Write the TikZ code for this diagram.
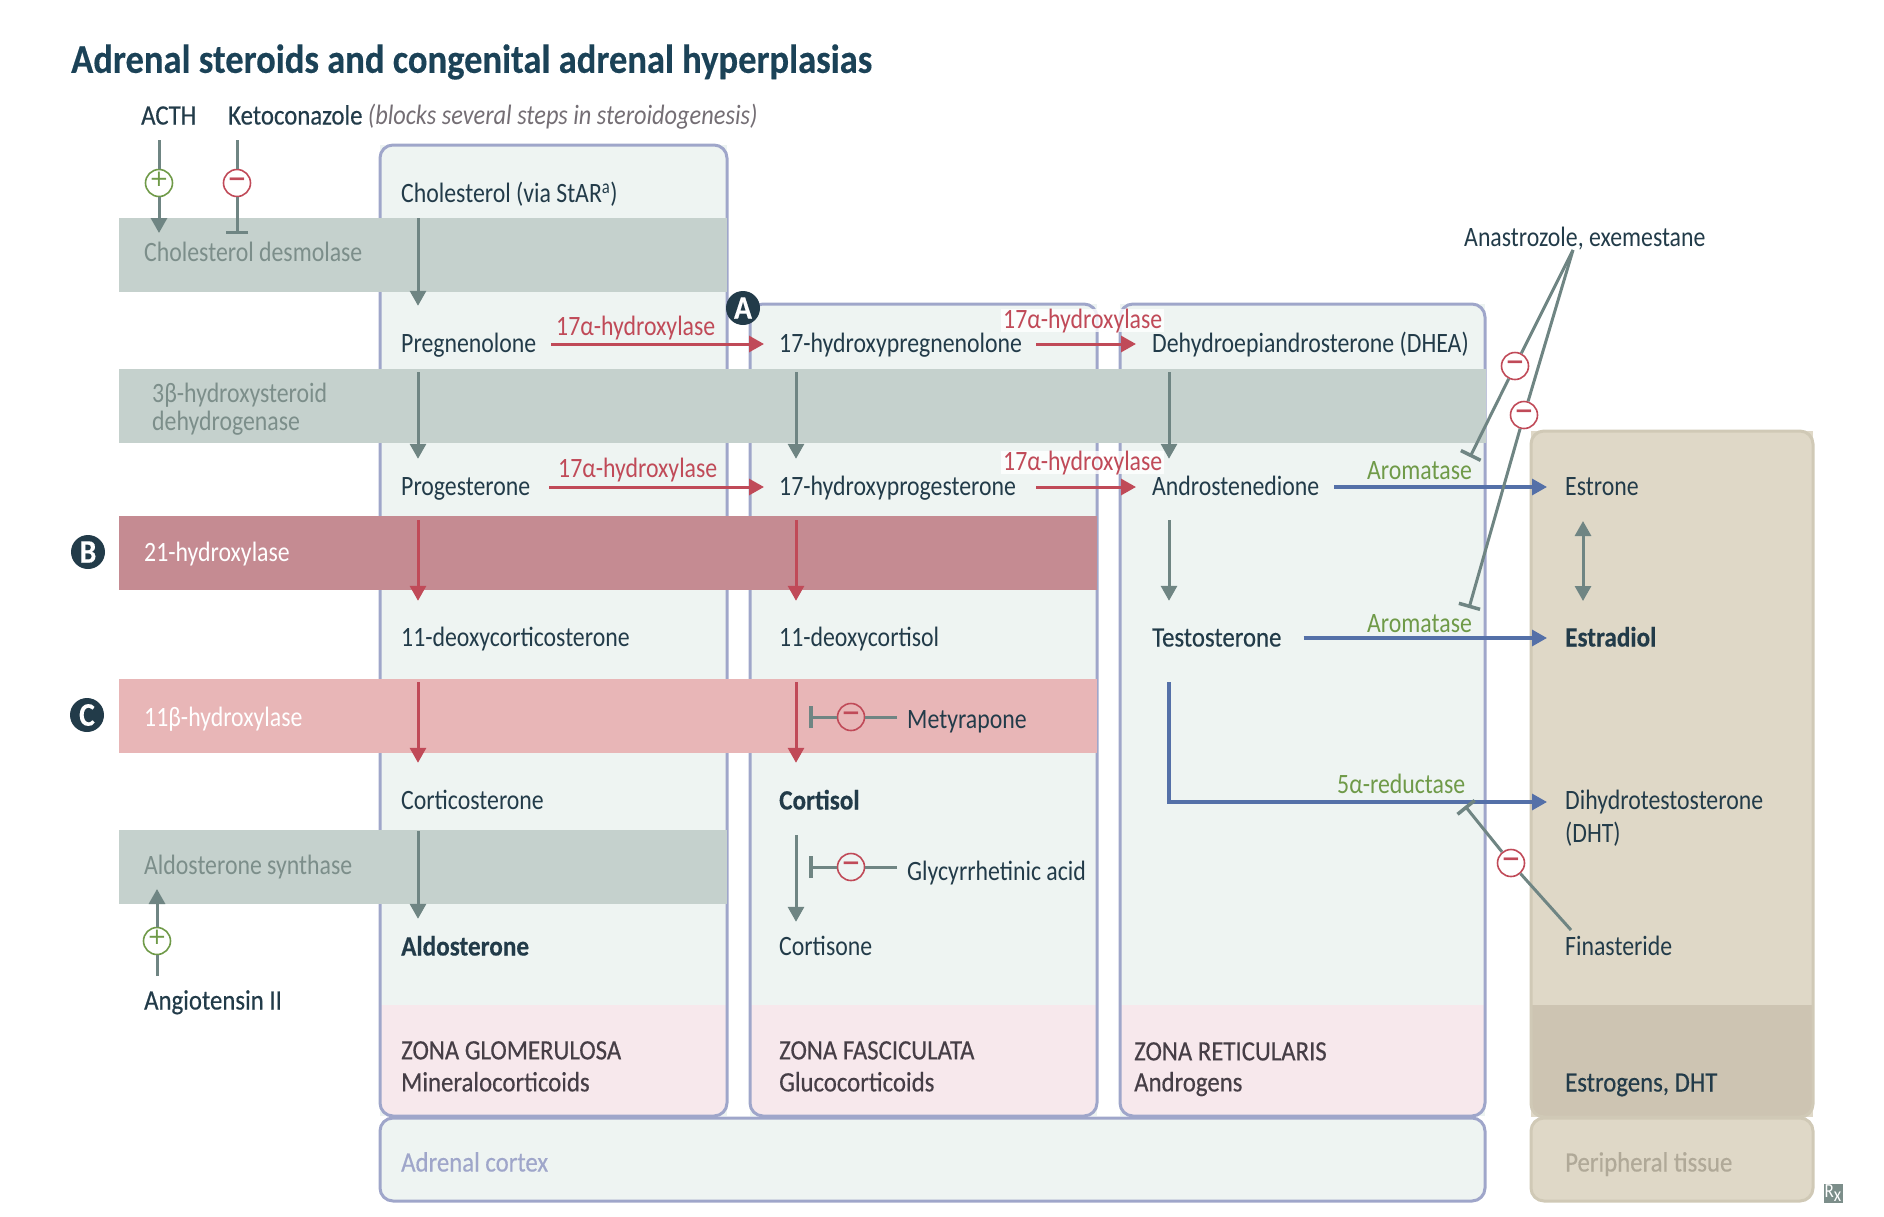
\documentclass[tikz,border=0pt]{standalone}
\usepackage{fontspec}
\setmainfont{Carlito}[FakeStretch=0.85,ItalicFeatures={FakeStretch=0.87},BoldFeatures={FakeStretch=0.9,FakeBold=0.3}]
\newfontface\medfont{Carlito}[FakeStretch=0.885,FakeBold=0.4]
\newfontface\signfont{DejaVu Sans Bold}
\newfontface\plusfont{DejaVu Sans}
\usetikzlibrary{arrows.meta}
\definecolor{inkdark}{HTML}{223B49}
\definecolor{inktitle}{HTML}{1B4257}
\definecolor{zonefill}{HTML}{EEF4F2}
\definecolor{zoneline}{HTML}{9FA6CA}
\definecolor{zonepink}{HTML}{F7E8EC}
\definecolor{bandgrey}{HTML}{C5D1CD}
\definecolor{bandtext}{HTML}{7C8E8A}
\definecolor{bandred}{HTML}{C58B92}
\definecolor{bandrose}{HTML}{E8B6B7}
\definecolor{arrowgrey}{HTML}{6F8583}
\definecolor{arrowred}{HTML}{C04A58}
\definecolor{arrowblue}{HTML}{5470A8}
\definecolor{leafgreen}{HTML}{6F9A48}
\definecolor{tanfill}{HTML}{DFD8C7}
\definecolor{tandark}{HTML}{CDC4B2}
\definecolor{tanline}{HTML}{D0C9B6}
\definecolor{tantext}{HTML}{B0A998}
\definecolor{zonetext}{HTML}{463E46}
\tikzset{
  label/.style    = {anchor=west, inner sep=0pt, text=inkdark, text height=20pt, text depth=3pt},
  medlabel/.style = {label, font=\bodyfont\medfont},
  boldlabel/.style= {label, font=\bodyfont\bfseries},
  multilabel/.style = {label, align=left, text height=, text depth=},
  enzred/.style   = {label, text=arrowred},
  enzgreen/.style = {label, text=leafgreen},
  zonebox/.style  = {anchor=north west, inner sep=0pt, outer sep=0pt, fill=zonefill},
  zoneedge/.style = {draw=zoneline, line width=3pt, rounded corners=13pt},
  tanbox/.style   = {anchor=north west, inner sep=0pt, outer sep=0pt, fill=tanfill},
  tanedge/.style  = {draw=tanline, line width=3pt, rounded corners=13pt},
  band/.style     = {anchor=north west, inner sep=0pt, outer sep=0pt, minimum height=74pt},
  badge/.style    = {circle, fill=inkdark, text=white, inner sep=0pt, minimum size=34pt,
                     font=\fontsize{33}{33}\selectfont\bfseries},
  plus/.style     = {circle, draw=leafgreen, line width=1.6pt, text=leafgreen, inner sep=0pt,
                     minimum size=27pt, font=\fontsize{23}{23}\selectfont\plusfont},
  minus/.style    = {circle, draw=arrowred, line width=1.6pt, text=arrowred, inner sep=0pt,
                     minimum size=27pt, font=\fontsize{23}{23}\selectfont\signfont},
  greyline/.style = {draw=arrowgrey, line width=3pt},
  greyarrow/.style= {greyline, -{Triangle[length=15pt,width=16pt]}},
  greybar/.style  = {greyline, -{Bar[width=22pt,line width=3.5pt]}},
  redarrow/.style = {draw=arrowred, line width=3pt, -{Triangle[length=15pt,width=16pt]}},
  bluearrow/.style= {draw=arrowblue, line width=3.2pt, -{Triangle[length=15pt,width=16pt]}}
}
\newcommand{\bodyfont}{\fontsize{28}{28}\selectfont}
\newcommand{\signglyph}[1]{\raisebox{-.314em}{\smash{#1}}}
\begin{document}
\begin{tikzpicture}
  [
    x = 1pt,
    y = -1pt,
    every node/.style = {font=\bodyfont}
  ]
  \useasboundingbox (0,0) rectangle (1884,1216);

  % zone boxes
  \node [zonebox, minimum width=347pt, minimum height=971pt] (glom) at (380,145) {};
  \node [zonebox, minimum width=347pt, minimum height=812pt] (fasc) at (750,304) {};
  \node [zonebox, minimum width=365pt, minimum height=812pt] (reti) at (1120,304) {};
  \node [tanbox, minimum width=282pt, minimum height=686pt] (peri) at (1531,431) {};
  \fill [zonepink, rounded corners=13pt] (380,1005) [sharp corners] -- (727,1005) [rounded corners=13pt] -- (727,1116) -- (380,1116) [sharp corners] -- cycle;
  \fill [zonepink, rounded corners=13pt] (750,1005) [sharp corners] -- (1097,1005) [rounded corners=13pt] -- (1097,1116) -- (750,1116) [sharp corners] -- cycle;
  \fill [zonepink, rounded corners=13pt] (1120,1005) [sharp corners] -- (1485,1005) [rounded corners=13pt] -- (1485,1116) -- (1120,1116) [sharp corners] -- cycle;
  \fill [tandark, rounded corners=13pt] (1531,1005) [sharp corners] -- (1813,1005) [rounded corners=13pt] -- (1813,1117) -- (1531,1117) [sharp corners] -- cycle;
  \draw [zoneedge] (glom.north west) rectangle (glom.south east);
  \draw [zoneedge] (fasc.north west) rectangle (fasc.south east);
  \draw [zoneedge] (reti.north west) rectangle (reti.south east);
  \draw [tanedge] (peri.north west) rectangle (peri.south east);
  \node [zonebox, zoneedge, minimum width=1105pt, minimum height=83pt] (cortex) at (380,1118) {};
  \node [tanbox, tanedge, minimum width=282pt, minimum height=83pt] (tissue) at (1531,1118) {};

  % enzyme bands
  \node [band, fill=bandgrey, minimum width=608pt] (desmo) at (119,218) {};
  \node [band, fill=bandgrey, minimum width=1367pt] (hsd) at (119,369) {};
  \node [band, fill=bandred, minimum width=978pt] (hyd21) at (119,516) {};
  \node [band, fill=bandrose, minimum width=978pt] (hyd11) at (119,679) {};
  \node [band, fill=bandgrey, minimum width=608pt] (synth) at (119,830) {};
  \node [label, text=bandtext] (desmoname) at (144,253) {Cholesterol desmolase};
  \node [multilabel, text=bandtext, anchor=north west] (hsdname) at (152,383) {3β-hydroxysteroid\\dehydrogenase};
  \node [label, text=white] (hyd21name) at (144,553) {21-hydroxylase};
  \node [label, text=white] (hyd11name) at (144,718) {11β-hydroxylase};
  \node [label, text=bandtext] (synthname) at (144,866) {Aldosterone synthase};

  % title and drug labels
  \node [anchor=west, inner sep=0pt, text=inktitle, font=\fontsize{40.6}{41}\selectfont\bfseries] (title) at (71,62) {Adrenal steroids and congenital adrenal hyperplasias};
  \node [medlabel] (acth) at (141,116) {ACTH};
  \node [label] (keto) at (228,116) {{\medfont Ketoconazole} {\color{zonetext!75}\itshape(blocks several steps in steroidogenesis)}};
  \node [medlabel] (angio) at (144,1001) {Angiotensin II};
  \node [label] (anas) at (1464,238) {Anastrozole, exemestane};
  \node [label] (mety) at (907,720) {Metyrapone};
  \node [label] (glyc) at (907,872) {Glycyrrhetinic acid};
  \node [label] (fina) at (1565,947) {Finasteride};

  % first column
  \node [label] (chol) at (401,194) {Cholesterol (via StAR\textsuperscript{a})};
  \node [label] (preg) at (401,344) {Pregnenolone};
  \node [label] (prog) at (401,487) {Progesterone};
  \node [label] (doc) at (401,638) {11-deoxycorticosterone};
  \node [label] (cort) at (401,801) {Corticosterone};
  \node [boldlabel] (aldo) at (401,947) {Aldosterone};

  % second column
  \node [label] (hpreg) at (779,344) {17-hydroxypregnenolone};
  \node [label] (hprog) at (779,487) {17-hydroxyprogesterone};
  \node [label] (dcol) at (779,638) {11-deoxycortisol};
  \node [boldlabel] (cisol) at (779,801) {Cortisol};
  \node [label] (cone) at (779,947) {Cortisone};

  % third column
  \node [label] (dhea) at (1152,344) {Dehydroepiandrosterone (DHEA)};
  \node [label] (andro) at (1152,487) {Androstenedione};
  \node [medlabel] (testo) at (1152,638) {Testosterone};

  % peripheral column
  \node [label] (estrone) at (1565,487) {Estrone};
  \node [boldlabel] (estra) at (1565,638) {Estradiol};
  \node [multilabel, anchor=north west] (dht) at (1565,790) {Dihydrotestosterone\\[5pt](DHT)};

  % zone captions
  \node [multilabel, anchor=north west, text=zonetext, font=\bodyfont\medfont] (zg) at (401,1041) {ZONA GLOMERULOSA\\[4pt]Mineralocorticoids};
  \node [multilabel, anchor=north west, text=zonetext, font=\bodyfont\medfont] (zf) at (779,1041) {ZONA FASCICULATA\\[4pt]Glucocorticoids};
  \node [multilabel, anchor=north west, text=zonetext, font=\bodyfont\medfont] (zr) at (1134,1042) {ZONA RETICULARIS\\[3pt]Androgens};
  \node [medlabel] (estro) at (1565,1083) {Estrogens, DHT};
  \node [label, text=zoneline, font=\bodyfont\medfont] (adco) at (401,1163) {Adrenal cortex};
  \node [label, text=tantext, font=\bodyfont\medfont] (peti) at (1565,1163) {Peripheral tissue};
  \node [fill=bandtext, text=white, inner sep=0pt, minimum size=19pt, font=\fontsize{20}{20}\selectfont] (rx) at (1833,1193) {R\raisebox{-4pt}{x}};

  % enzyme names on the arrows
  \node [enzred] (oh1) at (556,327) {17α-hydroxylase};
  \node [enzred] (oh2) at (558,469) {17α-hydroxylase};
  \node [enzred, fill=white, fill opacity=0.82, text opacity=1, inner xsep=2pt] (oh3) at (1001,320) {17α-hydroxylase};
  \node [enzred, fill=white, fill opacity=0.82, text opacity=1, inner xsep=2pt] (oh4) at (1001,462) {17α-hydroxylase};
  \node [enzgreen] (aro1) at (1367,471) {Aromatase};
  \node [enzgreen] (aro2) at (1367,624) {Aromatase};
  \node [enzgreen] (red5) at (1337,785) {5α-reductase};

  % sign circles
  \node [plus] (pacth) at (159,183) {\signglyph{+}};
  \node [minus] (mketo) at (237,183) {\signglyph{−}};
  \node [plus] (pangio) at (157,941) {\signglyph{+}};
  \node [minus] (mmety) at (851,717) {\signglyph{−}};
  \node [minus] (mglyc) at (851,867) {\signglyph{−}};
  \node [minus] (manas1) at (1515,366) {\signglyph{−}};
  \node [minus] (manas2) at (1524,415) {\signglyph{−}};
  \node [minus] (mfina) at (1511,863) {\signglyph{−}};

  % free ends
  \coordinate (acthin) at (159,140);
  \coordinate (acthout) at (159,233);
  \coordinate (ketoin) at (237,140);
  \coordinate (ketoout) at (237,234);
  \coordinate (angioin) at (157,976);
  \coordinate (angioout) at (157,889);
  \coordinate (metyin) at (897,717);
  \coordinate (metyout) at (809,717);
  \coordinate (glycin) at (897,867);
  \coordinate (glycout) at (809,867);
  \coordinate (anasin) at (1573,250);
  \coordinate (anasa) at (1470,457);
  \coordinate (anasb) at (1469,608);
  \coordinate (finain) at (1571,930);
  \coordinate (finaout) at (1465,806);
  \coordinate (dhtin) at (1547,802);
  \coordinate (estrup) at (1583,521);
  \coordinate (estrdn) at (1583,601);

  % grey steps
  \draw [greyarrow, shorten <=12.5pt, shorten >=26.5pt] ([xshift=17pt]chol.south west) -- ([xshift=17pt]preg.north west);
  \draw [greyarrow, shorten <=16.5pt, shorten >=16.5pt] ([xshift=17pt]preg.south west) -- ([xshift=17pt]prog.north west);
  \draw [greyarrow, shorten <=16.5pt, shorten >=16.5pt] ([xshift=17pt]hpreg.south west) -- ([xshift=17pt]hprog.north west);
  \draw [greyarrow, shorten <=16.5pt, shorten >=16.5pt] ([xshift=17pt]dhea.south west) -- ([xshift=17pt]andro.north west);
  \draw [greyarrow, shorten <=21.5pt, shorten >=25.5pt] ([xshift=17pt]andro.south west) -- ([xshift=17pt]testo.north west);
  \draw [greyarrow, shorten <=18.5pt, shorten >=16.5pt] ([xshift=17pt]cort.south west) -- ([xshift=17pt]aldo.north west);
  \draw [greyarrow, shorten <=22.5pt, shorten >=13.5pt] ([xshift=17pt]cisol.south west) -- ([xshift=17pt]cone.north west);
  \draw [greyline, {Triangle[length=15pt,width=16pt]}-{Triangle[length=15pt,width=16pt]}] (estrup) -- (estrdn);

  % red steps
  \draw [redarrow, shorten <=21.5pt, shorten >=25.5pt] ([xshift=17pt]prog.south west) -- ([xshift=17pt]doc.north west);
  \draw [redarrow, shorten <=21.5pt, shorten >=25.5pt] ([xshift=17pt]hprog.south west) -- ([xshift=17pt]dcol.north west);
  \draw [redarrow, shorten <=32.5pt, shorten >=26.5pt] ([xshift=17pt]doc.south west) -- ([xshift=17pt]cort.north west);
  \draw [redarrow, shorten <=32.5pt, shorten >=26.5pt] ([xshift=17pt]dcol.south west) -- ([xshift=17pt]cisol.north west);
  \draw [redarrow, shorten <=15pt, shorten >=15pt] (preg.east) -- (hpreg.west);
  \draw [redarrow, shorten <=19pt, shorten >=15pt] (prog.east) -- (hprog.west);
  \draw [redarrow, shorten <=14pt, shorten >=16pt] (hpreg.east) -- (dhea.west);
  \draw [redarrow, shorten <=20pt, shorten >=16pt] (hprog.east) -- (andro.west);

  % blue steps
  \draw [bluearrow, shorten <=15pt, shorten >=18pt] (andro.east) -- (estrone.west);
  \draw [bluearrow, shorten <=22pt, shorten >=18pt] (testo.east) -- (estra.west);
  \draw [bluearrow, shorten <=32.5pt] ([xshift=17pt]testo.south west) |- (dhtin);

  % drug effects
  \draw [greyline] (acthin) -- (pacth);
  \draw [greyarrow] (pacth) -- (acthout);
  \draw [greyline] (ketoin) -- (mketo);
  \draw [greybar] (mketo) -- (ketoout);
  \draw [greyline] (angioin) -- (pangio);
  \draw [greyarrow] (pangio) -- (angioout);
  \draw [greyline] (metyin) -- (mmety);
  \draw [greybar] (mmety) -- (metyout);
  \draw [greyline] (glycin) -- (mglyc);
  \draw [greybar] (mglyc) -- (glycout);
  \draw [greyline] (anasin) -- (manas1);
  \draw [greybar] (manas1) -- (anasa);
  \draw [greyline] (anasin) -- (manas2);
  \draw [greybar] (manas2) -- (anasb);
  \draw [greyline] (finain) -- (mfina);
  \draw [greybar] (mfina) -- (finaout);

  % badges
  \node [badge] (bada) at (743,308) {A};
  \node [badge] (badb) at (88,552) {B};
  \node [badge] (badc) at (87,715) {C};
\end{tikzpicture}
\end{document}
